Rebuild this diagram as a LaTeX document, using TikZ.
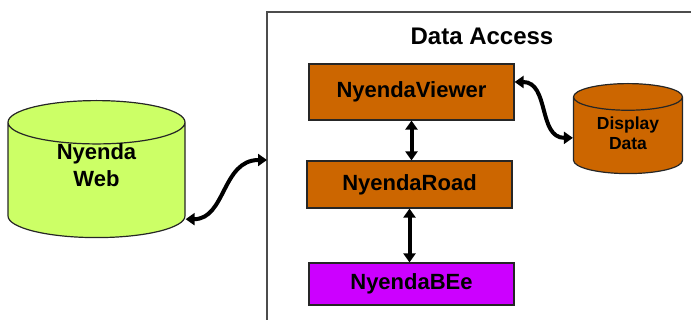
\documentclass[tikz,border=0pt]{standalone}
\usepackage{fontspec}
\setmainfont{Liberation Sans}
\usetikzlibrary{shapes.geometric,arrows.meta,positioning}
\definecolor{webgreen}{HTML}{CCFF66}
\definecolor{boxorange}{HTML}{CC6600}
\definecolor{beemagenta}{HTML}{CC00FF}

\begin{document}
\begin{tikzpicture}[x=1pt,y=-1pt,
    layer/.style={draw=black!85,line width=1.2pt,fill=boxorange,minimum width=205pt,
        font=\fontsize{22}{26}\selectfont\bfseries},
    db/.style={cylinder,shape border rotate=90,draw=black!85,line width=1.2pt,anchor=top},
    link/.style={line width=4pt,{Triangle[length=9pt,width=12pt]}-{Triangle[length=9pt,width=12pt]}}]
    \useasboundingbox (0,0) rectangle (691,320);
    % data access frame
    \draw[black!70,line width=1.5pt] (700,12) -- (267,12) -- (267,330);
    \node[font=\fontsize{24}{28}\selectfont\bfseries] (title) at (482,36) {Data Access};
    \coordinate (access) at (267,160);
    % layers
    \node[layer,minimum height=56pt] (viewer) at (411.5,92) {NyendaViewer};
    \node[layer,minimum height=47pt] (road) at (409.5,184.5) {NyendaRoad};
    \node[layer,fill=beemagenta,minimum height=42pt] (bee) at (411.5,284) {NyendaBEe};
    % databases
    \node[db,fill=webgreen,aspect=6.5,minimum width=177pt,minimum height=137pt,
        label={[align=center,yshift=18pt,font=\fontsize{22}{27}\selectfont\bfseries]center:Nyenda\\Web}]
        (web) at (96.5,100) {};
    \node[db,fill=boxorange,aspect=4,minimum width=109pt,minimum height=90pt,
        label={[align=center,yshift=5pt,font=\fontsize{17.5}{20}\selectfont\bfseries]center:Display\\Data}]
        (display) at (628,83) {};
    % links
    \draw[link] ([yshift=-36pt]web.east) .. controls +(40,0) and +(-45,0) .. (access);
    \draw[link] ([yshift=10pt]viewer.east) .. controls +(35,0) and +(-35,0) .. (display.west);
    \draw[link] (viewer.south) -- (viewer.south |- road.north);
    \draw[link] (road.south) -- (road.south |- bee.north);
\end{tikzpicture}
\end{document}
